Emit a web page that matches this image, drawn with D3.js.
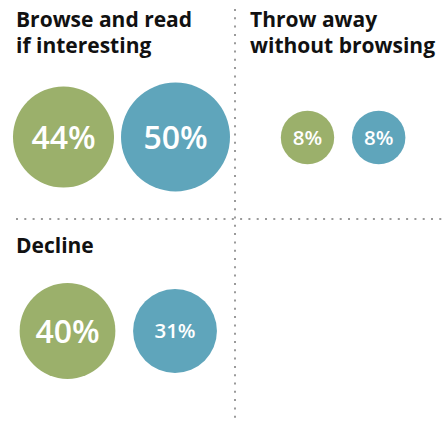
<!DOCTYPE html>
<html>
<head>
<style>
    body { margin: 0; background: white; }
    .titre { font-family: "Open Sans", sans-serif; font-weight: 700; fill: #111; }
    .pct { font-family: "Open Sans", sans-serif; font-weight: 600; fill: white; }
    .sep { stroke: #9a9a9a; stroke-width: 2; stroke-dasharray: 2, 6.3; }
</style>
</head>
<body>
<div id="plateau"></div>
<script src="https://cdn.jsdelivr.net/npm/d3@7/dist/d3.min.js"></script>
<script>

//////////////////// donnees ////////////////////
const TITRES = [
    ['Browse and read', 'if interesting'],
    ['Throw away', 'without browsing'],
    ['Decline']
];
const SERIES = ['green', 'blue'];
const VALEURS_GREEN = [44, 8, 40];
const VALEURS_BLUE = [50, 8, 31];

//////////////////// mise en page ////////////////////
const W = 445, H = 421;
const COULEURS = { green: '#9bb06b', blue: '#5fa5bb' };

// origine du titre, centre vertical des cercles, plage x des centres
const PANNEAUX = [
    { tx: 16,  ty: 27,  cy: 137,   cx: [63.5, 175.5] },
    { tx: 250, ty: 27,  cy: 137.5, cx: [307.5, 378.7] },
    { tx: 16,  ty: 253, cy: 331,   cx: [67.5, 175] }
];

let rayon = d3.scaleLinear().domain([8, 50]).range([26.7, 54.5]);
let taillePct = d3.scaleThreshold().domain([35]).range([20.5, 32]);
let couleur = d3.scaleOrdinal().domain(SERIES).range([COULEURS.green, COULEURS.blue]);

let svg = d3.select('#plateau').append('svg')
    .attr('width', W)
    .attr('height', H);

// separateurs pointilles
svg.append('line').classed('sep', true)
    .attr('x1', 235).attr('x2', 235)
    .attr('y1', 9).attr('y2', H);
svg.append('line').classed('sep', true)
    .attr('x1', 16).attr('x2', W)
    .attr('y1', 219).attr('y2', 219);

TITRES.forEach((lignes, idx) => {
    let p = PANNEAUX[idx];
    let x = d3.scalePoint().domain(SERIES).range(p.cx);
    let valeurs = [VALEURS_GREEN[idx], VALEURS_BLUE[idx]];

    let titre = svg.append('text')
        .classed('titre', true)
        .attr('font-size', 21)
        .attr('transform', `translate(${p.tx}, ${p.ty})`);
    lignes.forEach((l, i) => {
        titre.append('tspan')
            .attr('x', 0)
            .attr('y', i * 26)
            .text(l);
    });

    let g = svg.append('g').attr('transform', `translate(0, ${p.cy})`);
    SERIES.forEach((s, i) => {
        g.append('circle')
            .attr('cx', x(s))
            .attr('cy', 0)
            .attr('r', rayon(valeurs[i]))
            .attr('fill', couleur(s));
        g.append('text')
            .classed('pct', true)
            .attr('x', x(s))
            .attr('y', 0)
            .attr('dy', '0.36em')
            .attr('text-anchor', 'middle')
            .attr('font-size', taillePct(valeurs[i]))
            .text(valeurs[i] + '%');
    });
});

</script>
</body>
</html>
